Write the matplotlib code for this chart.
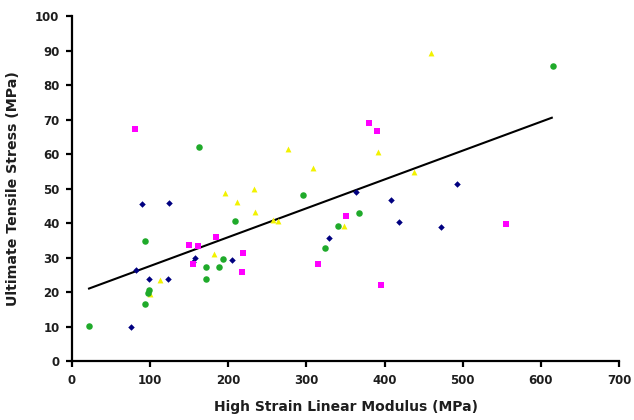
import numpy as np
import matplotlib
matplotlib.use('Agg')
import matplotlib.pyplot as plt


# series (modulus MPa, stress MPa)
navy_x = [76, 82, 89, 98, 123, 124, 155, 158, 205, 329, 363, 408, 418, 472, 493]
navy_y = [9.9, 26.3, 45.4, 23.9, 23.8, 45.9, 28.8, 30.0, 29.3, 35.6, 48.9, 46.7, 40.3, 38.7, 51.3]

magenta_x = [80, 150, 155, 161, 184, 218, 219, 315, 351, 380, 390, 395, 555]
magenta_y = [67.2, 33.7, 28.0, 33.4, 35.8, 25.7, 31.4, 28.1, 42.0, 69.0, 66.8, 22.0, 39.6]

yellow_x = [100, 112, 182, 196, 211, 233, 234, 257, 263, 276, 308, 348, 392, 438, 459]
yellow_y = [19.4, 23.5, 30.9, 48.8, 46.1, 50.0, 43.1, 40.8, 40.5, 61.4, 55.8, 39.2, 60.7, 54.9, 89.4]

green_x = [22, 94, 97, 98, 93, 162, 172, 172, 188, 193, 208, 295, 324, 340, 367, 615]
green_y = [10.1, 16.5, 19.6, 20.5, 34.8, 62.0, 27.2, 23.8, 27.2, 29.6, 40.7, 48.0, 32.8, 39.2, 43.0, 85.5]

# linear trendline
trend_slope = 0.0836
trend_intercept = 19.18
trend_x = [21.8, 614]

x_ticks = [0, 100, 200, 300, 400, 500, 600, 700]
y_ticks = [0, 10, 20, 30, 40, 50, 60, 70, 80, 90, 100]

plt.rcParams['font.family'] = ['DejaVu Sans']
text_color = '#1e1e1e'

fig = plt.figure(figsize=(6.34, 4.20), dpi=100)
ax = fig.add_axes([72 / 634, 1 - 361 / 420, (619 - 72) / 634, (361 - 16) / 420])

ax.scatter(navy_x, navy_y, marker='D', s=11, color='#000080', linewidths=0, zorder=3)
ax.scatter(magenta_x, magenta_y, marker='s', s=24, color='#ff00ff', linewidths=0, zorder=3)
ax.scatter(yellow_x, yellow_y, marker='^', s=18, color='#f2f200', linewidths=0, zorder=3)
ax.scatter(green_x, green_y, marker='o', s=22, color='#1faa2a', linewidths=0, zorder=3)

tx = np.array(trend_x)
ax.plot(tx, trend_slope * tx + trend_intercept, color='black', linewidth=1.5, zorder=2)

ax.set_xlim(0, 700)
ax.set_ylim(0, 100)
ax.set_xticks(x_ticks)
ax.set_yticks(y_ticks)

for side in ('top', 'right'):
    ax.spines[side].set_visible(False)
for side in ('left', 'bottom'):
    ax.spines[side].set_linewidth(1.6)
    ax.spines[side].set_color('black')

ax.tick_params(direction='out', length=4, width=1.6, pad=5,
               labelsize=8.5, labelcolor=text_color)
for lab in ax.get_xticklabels() + ax.get_yticklabels():
    lab.set_fontweight('bold')

ax.set_xlabel('High Strain Linear Modulus (MPa)', fontsize=10, fontweight='bold',
              color=text_color, labelpad=10)
ax.set_ylabel('Ultimate Tensile Stress (MPa)', fontsize=10.2, fontweight='bold',
              color=text_color, labelpad=11)

fig.savefig('out.png', dpi=100)
